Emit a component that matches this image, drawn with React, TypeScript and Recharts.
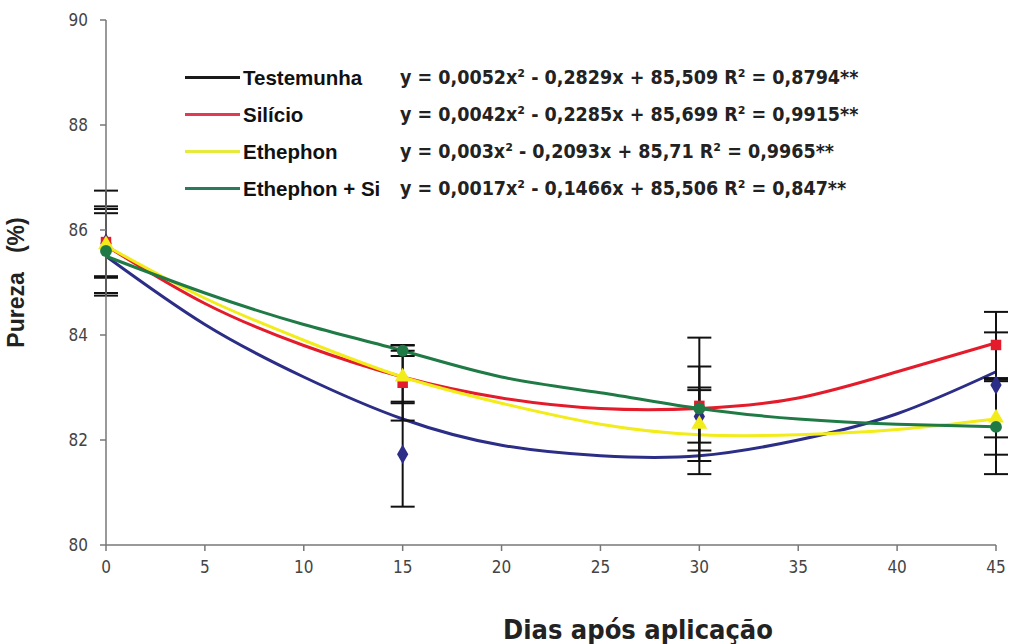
import { ComposedChart, Line, Scatter, ErrorBar, XAxis, YAxis, ZAxis, Label } from "recharts";

// curve readings (fitted trend lines) every 5 days
const days = [0, 5, 10, 15, 20, 25, 30, 35, 40, 45];
const testemunhaCurve = [85.5, 84.2, 83.2, 82.4, 81.9, 81.7, 81.7, 82.0, 82.5, 83.3];
const silicioCurve = [85.7, 84.6, 83.8, 83.2, 82.8, 82.6, 82.6, 82.8, 83.3, 83.85];
const ethephonCurve = [85.7, 84.7, 83.9, 83.2, 82.7, 82.3, 82.1, 82.1, 82.2, 82.4];
const ethSiCurve = [85.5, 84.8, 84.2, 83.7, 83.2, 82.9, 82.6, 82.4, 82.3, 82.25];

// observed means and error bars
const sampleDays = [0, 15, 30, 45];
const testemunhaObs = [85.75, 81.73, 82.45, 83.05];
const testemunhaErr = [1.0, 1.0, 0.5, 1.0];
const silicioObs = [85.77, 83.09, 82.65, 83.81];
const silicioErr = [0.68, 0.72, 1.3, 0.63];
const ethephonObs = [85.72, 83.2, 82.3, 82.42];
const ethephonErr = [0.6, 0.5, 0.7, 0.7];
const ethSiObs = [85.6, 83.7, 82.6, 82.25];
const ethSiErr = [0.8, 0.1, 0.8, 0.9];

const xTicks = [0, 5, 10, 15, 20, 25, 30, 35, 40, 45];
const yTicks = [80, 82, 84, 86, 88, 90];

const series = [
  { name: "Testemunha", legendColor: "#1a1a1a", color: "#2b2d86", curve: testemunhaCurve, obs: testemunhaObs, err: testemunhaErr, shape: "diamond", eq: "y = 0,0052x² - 0,2829x + 85,509 R² = 0,8794**" },
  { name: "Silício", legendColor: "#e03a55", color: "#e41b2a", curve: silicioCurve, obs: silicioObs, err: silicioErr, shape: "square", eq: "y = 0,0042x² - 0,2285x + 85,699 R² = 0,9915**" },
  { name: "Ethephon", legendColor: "#e6ea3a", color: "#f2ec1a", curve: ethephonCurve, obs: ethephonObs, err: ethephonErr, shape: "triangle", eq: "y = 0,003x² - 0,2093x + 85,71 R² = 0,9965**" },
  { name: "Ethephon + Si", legendColor: "#2b7a5c", color: "#1f7a45", curve: ethSiCurve, obs: ethSiObs, err: ethSiErr, shape: "circle", eq: "y = 0,0017x² - 0,1466x + 85,506 R² = 0,847**" },
];

const curveData = (vals: number[]) => days.map((d, i) => ({ x: d, y: vals[i] }));
const obsData = (vals: number[], errs: number[]) => sampleDays.map((d, i) => ({ x: d, y: vals[i], err: errs[i] }));

const narrow = "'Liberation Sans Narrow', 'DejaVu Sans Condensed', sans-serif";
const tickFont = { fontSize: 17, fill: "#444", fontFamily: narrow };

export default function App() {
  return (
    <div style={{ position: "absolute", left: 0, top: 0, width: 1011, height: 644, background: "#fff" }}>
      <ComposedChart width={1011} height={644} margin={{ top: 20, right: 15, bottom: 0, left: 46 }}>
        <XAxis
          dataKey="x"
          type="number"
          domain={[0, 45]}
          ticks={xTicks}
          tick={tickFont}
          tickSize={6}
          tickMargin={10}
          stroke="#777"
          strokeWidth={1.5}
          height={99}
        >
          <Label
            value="Dias após aplicação"
            position="insideBottom"
            offset={5}
            dx={87}
            style={{ fontSize: 27, fontWeight: "bold", fill: "#222", fontFamily: narrow }}
          />
        </XAxis>
        <YAxis
          type="number"
          domain={[80, 90]}
          ticks={yTicks}
          tick={tickFont}
          tickSize={6}
          tickMargin={12}
          stroke="#777"
          strokeWidth={1.5}
          width={60}
        >
          <Label
            value={"Pureza\u00a0\u00a0\u00a0(%)"}
            angle={-90}
            position="insideLeft"
            offset={-30}
            style={{ fontSize: 23, fontWeight: "bold", fill: "#222", textAnchor: "middle", fontFamily: "'Liberation Sans', sans-serif" }}
          />
        </YAxis>
        <ZAxis range={[110, 110]} />
        {series.map((s) => (
          <Line
            key={s.name + "-curve"}
            data={curveData(s.curve)}
            dataKey="y"
            type="natural"
            stroke={s.color}
            strokeWidth={3}
            dot={false}
            activeDot={false}
            isAnimationActive={false}
          />
        ))}
        {series.map((s) => (
          <Scatter
            key={s.name + "-obs"}
            data={obsData(s.obs, s.err)}
            dataKey="y"
            fill={s.color}
            shape={s.shape as any}
            isAnimationActive={false}
          >
            <ErrorBar dataKey="err" direction="y" width={12} stroke="#111" strokeWidth={2} />
          </Scatter>
        ))}
      </ComposedChart>
      <div style={{ position: "absolute", left: 185, top: 59, fontFamily: "'Liberation Sans', Arial, sans-serif" }}>
        {series.map((s) => (
          <div key={s.name} style={{ display: "flex", alignItems: "center", height: 37 }}>
            <div style={{ width: 55, height: 3, background: s.legendColor, marginRight: 3 }} />
            <div style={{ width: 157, fontSize: 20.5, fontWeight: "bold", color: "#111", whiteSpace: "nowrap" }}>{s.name}</div>
            <div style={{ fontSize: 19.5, fontWeight: "bold", color: "#222", whiteSpace: "nowrap", fontFamily: narrow }}>{s.eq}</div>
          </div>
        ))}
      </div>
    </div>
  );
}
